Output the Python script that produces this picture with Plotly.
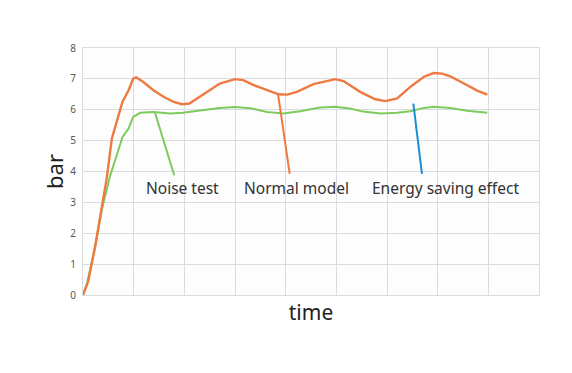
import plotly.graph_objects as go

# Normal model (orange)
normal_time = [0, 0.1, 0.24, 0.37, 0.47, 0.57, 0.78, 0.9, 0.99, 1.05, 1.19, 1.39, 1.59, 1.78, 1.95, 2.1,
               2.25, 2.44, 2.7, 3.0, 3.16, 3.37, 3.63, 3.86, 4.03, 4.22, 4.55, 4.98, 5.14, 5.47, 5.77,
               5.97, 6.2, 6.46, 6.73, 6.92, 7.09, 7.25, 7.52, 7.79, 7.98]
normal_bar = [0, 0.43, 1.57, 2.86, 3.8, 5.07, 6.26, 6.63, 7.01, 7.05, 6.9, 6.63, 6.42, 6.26, 6.18, 6.2,
              6.37, 6.58, 6.85, 6.99, 6.96, 6.8, 6.63, 6.5, 6.49, 6.58, 6.83, 6.99, 6.93, 6.58, 6.34,
              6.28, 6.37, 6.74, 7.07, 7.19, 7.17, 7.08, 6.85, 6.61, 6.49]

# Noise test / energy saving (green)
noise_time = [0, 0.07, 0.14, 0.24, 0.37, 0.53, 0.78, 0.9, 0.99, 1.13, 1.39, 1.72, 1.97, 2.25, 2.7, 3.0,
              3.3, 3.63, 3.96, 4.06, 4.29, 4.68, 4.98, 5.27, 5.53, 5.87, 6.2, 6.46, 6.73, 6.92,
              7.25, 7.58, 7.98]
noise_bar = [0, 0.32, 0.81, 1.57, 2.75, 3.83, 5.12, 5.39, 5.77, 5.9, 5.93, 5.88, 5.9, 5.96, 6.06, 6.09,
             6.05, 5.93, 5.88, 5.9, 5.95, 6.07, 6.1, 6.04, 5.94, 5.88, 5.9, 5.95, 6.06, 6.1,
             6.06, 5.97, 5.9]

# Labels and their pointer lines
label_texts = ["Noise test", "Normal model", "Energy saving effect"]
label_x = [1.97, 4.21, 7.15]
label_y = [3.46, 3.46, 3.46]
pointer_x = [[1.42, 1.8], [3.85, 4.08], [6.52, 6.69]]
pointer_y = [[5.91, 3.88], [6.5, 3.92], [6.2, 3.92]]
pointer_colors = ["#7ecb5c", "#ee7a42", "#1b8fd4"]

x_ticks = list(range(0, 10))
y_ticks = list(range(0, 9))

fig = go.Figure()
fig.add_trace(go.Scatter(x=noise_time, y=noise_bar, mode="lines",
                         line=dict(color="#7ecb5c", width=2), showlegend=False))
fig.add_trace(go.Scatter(x=normal_time, y=normal_bar, mode="lines",
                         line=dict(color="#ee7a42", width=2.4), showlegend=False))
for px, py, c in zip(pointer_x, pointer_y, pointer_colors):
    fig.add_trace(go.Scatter(x=px, y=py, mode="lines", line=dict(color=c, width=2),
                             showlegend=False))
for t, x, y in zip(label_texts, label_x, label_y):
    fig.add_annotation(x=x, y=y, text=t, showarrow=False,
                       font=dict(family="Noto Sans", size=15.5, color="#333333"))

fig.update_layout(
    width=572, height=373,
    margin=dict(l=75, r=41, t=40, b=86),
    paper_bgcolor="white", plot_bgcolor="#fdfdfd",
    font=dict(family="Noto Sans"),
    xaxis=dict(range=[0, 9], tickvals=x_ticks, showticklabels=False,
               showgrid=True, gridcolor="#d9dce0", gridwidth=1,
               zeroline=False, showline=True, linecolor="#d9dce0", mirror=True,
               automargin=False,
               title=dict(text="time", font=dict(size=21, color="#222222"), standoff=10)),
    yaxis=dict(range=[0, 8], tickvals=y_ticks, showgrid=True, gridcolor="#d9dce0",
               gridwidth=1, zeroline=False, showline=True, linecolor="#d9dce0", mirror=True,
               automargin=False,
               tickfont=dict(size=10, color="#555555"), ticks="", ticklabelstandoff=4,
               title=dict(text="bar", font=dict(size=22, color="#222222"), standoff=0)),
)

fig.write_html("out.html")
